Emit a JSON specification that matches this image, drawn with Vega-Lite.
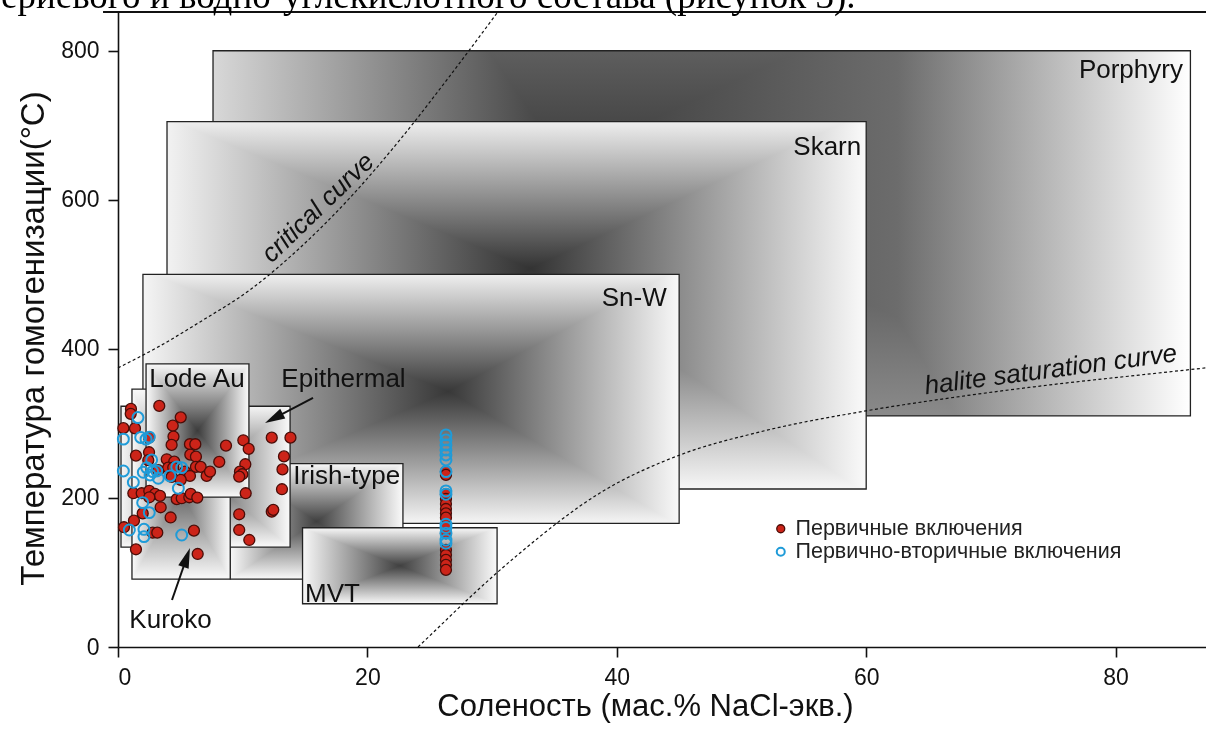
{
"$schema":"https://vega.github.io/schema/vega-lite/v6.json",
"autosize":"none",
"width":1088,"height":635,
"padding":{"left":118,"top":12,"right":0,"bottom":86},
"background":"#ffffff",
"config":{"view":{"stroke":null},"font":"Liberation Sans"},
"title":{"text":"ериевого и водно-углекислотного состава (рисунок 3).","anchor":"start","frame":"group","font":"Liberation Serif","fontSize":37,"fontWeight":"normal","color":"#000000","dx":-117,"offset":-36,"baseline":"alphabetic"},
"datasets":{
"boxes":[
{"name":"Porphyry","x":7.62,"x2":86.0,"y":310,"y2":800},
{"name":"Skarn","x":3.93,"x2":60.0,"y":212,"y2":705},
{"name":"Sn-W","x":2.0,"x2":45.0,"y":166,"y2":500},
{"name":"Irish-type","x":9.0,"x2":22.85,"y":91,"y2":246},
{"name":"MVT","x":14.8,"x2":30.4,"y":58,"y2":160},
{"name":"Epithermal","x":0.24,"x2":13.8,"y":134,"y2":323},
{"name":"Kuroko","x":1.12,"x2":9.0,"y":91,"y2":346},
{"name":"Lode Au","x":2.25,"x2":10.5,"y":201,"y2":380}
],
"border":[{"x":-1.2,"x2":87.3,"y":852}],
"critical":[{"x":0,"y":374.5},{"x":3.37,"y":404.0},{"x":6.58,"y":436.2},{"x":10.59,"y":479.2},{"x":14.59,"y":535.6},{"x":18.6,"y":602.7},{"x":22.61,"y":680.5},{"x":26.62,"y":766.4},{"x":30.47,"y":852.3}],
"halite":[{"x":24.06,"y":0},{"x":25.82,"y":28.2},{"x":27.99,"y":63.1},{"x":32.24,"y":126.2},{"x":38.65,"y":206.7},{"x":45.07,"y":257.7},{"x":51.48,"y":288.6},{"x":59.98,"y":316.8},{"x":66.72,"y":334.2},{"x":74.74,"y":351.7},{"x":82.76,"y":366.4},{"x":87.25,"y":374.5}],
"labelsR":[{"x":85.4,"y":764,"text":"Porphyry"},{"x":59.6,"y":660,"text":"Skarn"},{"x":44.0,"y":458,"text":"Sn-W"}],
"labelsL":[{"x":2.5,"y":349,"text":"Lode Au"},{"x":13.1,"y":349.4,"text":"Epithermal"},{"x":14.06,"y":218.8,"text":"Irish-type"},{"x":15.0,"y":61,"text":"MVT"},{"x":0.91,"y":25.1,"text":"Kuroko"}],
"curveLabels":[{"x":16.04,"y":589.3,"text":"critical curve","angle":-44},{"x":74.8,"y":372,"text":"halite saturation curve","angle":-7.5}],
"arrows":[{"x":15.64,"y":334.2,"x2":12.5,"y2":306.8},{"x":4.33,"y":63.1,"x2":5.51,"y2":120.1}],
"heads":[{"x":12.5,"y":306.8,"angle":242.5},{"x":5.51,"y":120.1,"angle":19}],
"pts":[
{"x":3.31,"y":323.5,"cat":"Первичные включения"},{"x":1.04,"y":319.5,"cat":"Первичные включения"},{"x":1.02,"y":312.8,"cat":"Первичные включения"},{"x":5.03,"y":308.1,"cat":"Первичные включения"},{"x":0.43,"y":293.6,"cat":"Первичные включения"},{"x":1.36,"y":293.3,"cat":"Первичные включения"},{"x":4.39,"y":297.0,"cat":"Первичные включения"},{"x":4.45,"y":282.3,"cat":"Первичные включения"},{"x":2.49,"y":280.9,"cat":"Первичные включения"},{"x":4.30,"y":271.1,"cat":"Первичные включения"},{"x":5.77,"y":272.1,"cat":"Первичные включения"},{"x":6.20,"y":272.1,"cat":"Первичные включения"},{"x":2.49,"y":261.3,"cat":"Первичные включения"},{"x":5.80,"y":258.1,"cat":"Первичные включения"},{"x":6.25,"y":255.4,"cat":"Первичные включения"},{"x":1.44,"y":256.8,"cat":"Первичные включения"},{"x":3.91,"y":251.9,"cat":"Первичные включения"},{"x":4.51,"y":248.7,"cat":"Первичные включения"},{"x":2.43,"y":250.6,"cat":"Первичные включения"},{"x":3.23,"y":237.2,"cat":"Первичные включения"},{"x":4.03,"y":240.7,"cat":"Первичные включения"},{"x":4.43,"y":240.7,"cat":"Первичные включения"},{"x":6.25,"y":241.6,"cat":"Первичные включения"},{"x":6.63,"y":241.6,"cat":"Первичные включения"},{"x":5.37,"y":235.3,"cat":"Первичные включения"},{"x":5.77,"y":229.5,"cat":"Первичные включения"},{"x":7.11,"y":229.5,"cat":"Первичные включения"},{"x":4.30,"y":228.2,"cat":"Первичные включения"},{"x":5.03,"y":224.2,"cat":"Первичные включения"},{"x":12.33,"y":280.9,"cat":"Первичные включения"},{"x":13.83,"y":280.9,"cat":"Первичные включения"},{"x":10.05,"y":277.4,"cat":"Первичные включения"},{"x":10.48,"y":265.8,"cat":"Первичные включения"},{"x":8.66,"y":270.2,"cat":"Первичные включения"},{"x":13.31,"y":255.7,"cat":"Первичные включения"},{"x":8.12,"y":248.3,"cat":"Первичные включения"},{"x":7.38,"y":235.3,"cat":"Первичные включения"},{"x":10.21,"y":245.2,"cat":"Первичные включения"},{"x":9.78,"y":235.3,"cat":"Первичные включения"},{"x":9.97,"y":231.8,"cat":"Первичные включения"},{"x":13.19,"y":238.3,"cat":"Первичные включения"},{"x":9.72,"y":228.6,"cat":"Первичные включения"},{"x":1.23,"y":206.3,"cat":"Первичные включения"},{"x":1.90,"y":206.3,"cat":"Первичные включения"},{"x":2.51,"y":209.4,"cat":"Первичные включения"},{"x":2.97,"y":205.4,"cat":"Первичные включения"},{"x":3.37,"y":202.7,"cat":"Первичные включения"},{"x":4.71,"y":198.3,"cat":"Первичные включения"},{"x":5.11,"y":199.6,"cat":"Первичные включения"},{"x":5.72,"y":200.9,"cat":"Первичные включения"},{"x":5.83,"y":205.4,"cat":"Первичные включения"},{"x":6.36,"y":200.5,"cat":"Первичные включения"},{"x":2.51,"y":200.9,"cat":"Первичные включения"},{"x":3.42,"y":187.5,"cat":"Первичные включения"},{"x":1.98,"y":179.2,"cat":"Первичные включения"},{"x":4.22,"y":173.8,"cat":"Первичные включения"},{"x":1.28,"y":169.5,"cat":"Первичные включения"},{"x":0.48,"y":160.7,"cat":"Первичные включения"},{"x":2.78,"y":153.4,"cat":"Первичные включения"},{"x":3.15,"y":153.4,"cat":"Первичные включения"},{"x":6.09,"y":156.1,"cat":"Первичные включения"},{"x":1.44,"y":131.1,"cat":"Первичные включения"},{"x":6.39,"y":124.8,"cat":"Первичные включения"},{"x":10.24,"y":206.3,"cat":"Первичные включения"},{"x":13.15,"y":211.7,"cat":"Первичные включения"},{"x":9.72,"y":178.1,"cat":"Первичные включения"},{"x":12.33,"y":181.6,"cat":"Первичные включения"},{"x":12.45,"y":183.9,"cat":"Первичные включения"},{"x":9.72,"y":157.0,"cat":"Первичные включения"},{"x":10.53,"y":143.6,"cat":"Первичные включения"},
{"x":26.3,"y":235.3,"cat":"Первичные включения"},{"x":26.3,"y":230.9,"cat":"Первичные включения"},{"x":26.3,"y":205.0,"cat":"Первичные включения"},{"x":26.3,"y":198.7,"cat":"Первичные включения"},{"x":26.3,"y":191.9,"cat":"Первичные включения"},{"x":26.3,"y":185.2,"cat":"Первичные включения"},{"x":26.3,"y":179.4,"cat":"Первичные включения"},{"x":26.3,"y":173.5,"cat":"Первичные включения"},{"x":26.3,"y":160.3,"cat":"Первичные включения"},{"x":26.3,"y":152.6,"cat":"Первичные включения"},{"x":26.3,"y":130.2,"cat":"Первичные включения"},{"x":26.3,"y":123.5,"cat":"Первичные включения"},{"x":26.3,"y":116.8,"cat":"Первичные включения"},{"x":26.3,"y":110.1,"cat":"Первичные включения"},{"x":26.3,"y":103.4,"cat":"Первичные включения"},
{"x":1.60,"y":307.8,"cat":"Первично-вторичные включения"},{"x":0.43,"y":278.9,"cat":"Первично-вторичные включения"},{"x":1.82,"y":281.2,"cat":"Первично-вторичные включения"},{"x":2.25,"y":278.9,"cat":"Первично-вторичные включения"},{"x":2.51,"y":281.6,"cat":"Первично-вторичные включения"},{"x":2.70,"y":251.0,"cat":"Первично-вторичные включения"},{"x":0.43,"y":236.2,"cat":"Первично-вторичные включения"},{"x":2.03,"y":234.5,"cat":"Первично-вторичные включения"},{"x":2.30,"y":240.7,"cat":"Первично-вторичные включения"},{"x":2.57,"y":230.9,"cat":"Первично-вторичные включения"},{"x":2.78,"y":235.3,"cat":"Первично-вторичные включения"},{"x":3.10,"y":236.2,"cat":"Первично-вторичные включения"},{"x":3.23,"y":226.4,"cat":"Первично-вторичные включения"},{"x":4.17,"y":229.5,"cat":"Первично-вторичные включения"},{"x":4.71,"y":241.6,"cat":"Первично-вторичные включения"},{"x":5.11,"y":240.7,"cat":"Первично-вторичные включения"},{"x":1.23,"y":221.1,"cat":"Первично-вторичные включения"},{"x":4.84,"y":213.0,"cat":"Первично-вторичные включения"},{"x":1.98,"y":193.7,"cat":"Первично-вторичные включения"},{"x":2.51,"y":180.3,"cat":"Первично-вторичные включения"},{"x":0.91,"y":157.0,"cat":"Первично-вторичные включения"},{"x":2.08,"y":157.9,"cat":"Первично-вторичные включения"},{"x":2.08,"y":148.1,"cat":"Первично-вторичные включения"},{"x":5.11,"y":150.3,"cat":"Первично-вторичные включения"},
{"x":26.3,"y":284.6,"cat":"Первично-вторичные включения"},{"x":26.3,"y":277.9,"cat":"Первично-вторичные включения"},{"x":26.3,"y":271.1,"cat":"Первично-вторичные включения"},{"x":26.3,"y":264.4,"cat":"Первично-вторичные включения"},{"x":26.3,"y":257.7,"cat":"Первично-вторичные включения"},{"x":26.3,"y":251.0,"cat":"Первично-вторичные включения"},{"x":26.3,"y":235.3,"cat":"Первично-вторичные включения"},{"x":26.3,"y":209.4,"cat":"Первично-вторичные включения"},{"x":26.3,"y":205.0,"cat":"Первично-вторичные включения"},{"x":26.3,"y":164.7,"cat":"Первично-вторичные включения"},{"x":26.3,"y":160.3,"cat":"Первично-вторичные включения"},{"x":26.3,"y":152.6,"cat":"Первично-вторичные включения"},{"x":26.3,"y":143.6,"cat":"Первично-вторичные включения"},{"x":26.3,"y":139.2,"cat":"Первично-вторичные включения"}
]
},
"encoding":{
"x":{"field":"x","type":"quantitative","scale":{"domain":[0,87.25],"nice":false,"zero":false},
 "axis":{"values":[0,20,40,60,80],"title":"Соленость (мас.% NaCl-экв.)","grid":false,"domainColor":"#111111","domainWidth":1.6,"tickColor":"#111111","tickWidth":1.6,"tickSize":10,"labelFontSize":23,"labelFont":"Liberation Sans","labelColor":"#111111","labelPadding":9,"titleFontSize":31,"titleFont":"Liberation Sans","titleFontWeight":"normal","titleColor":"#111111","titleX":527,"titleY":68,"titleBaseline":"alphabetic","titleAlign":"center"}},
"y":{"field":"y","type":"quantitative","scale":{"domain":[0,852],"nice":false,"zero":false},
 "axis":{"values":[0,200,400,600,800],"title":"Температура гомогенизации(°C)","grid":false,"domainColor":"#111111","domainWidth":1.6,"tickColor":"#111111","tickWidth":1.6,"tickSize":10,"labelFontSize":23,"labelFont":"Liberation Sans","labelColor":"#111111","labelPadding":9,"titleFontSize":33,"titleFont":"Liberation Sans","titleFontWeight":"normal","titleColor":"#111111","titleX":-75,"titleY":326,"titleBaseline":"alphabetic","titleAlign":"center","titleAngle":-90}}
},
"layer":[
{"data":{"name":"boxes"},"transform":[{"filter":"datum.name==='Porphyry'"}],"mark":{"type":"rect","fill":{"gradient":"linear","x1":0,"y1":0,"x2":1,"y2":0,"stops":[{"offset":0,"color":"#d8d8d8"},{"offset":0.36,"color":"#3c3c3c"},{"offset":0.7,"color":"#6c6c6c"},{"offset":1,"color":"#ffffff"}]}},"encoding":{"x2":{"field":"x2"},"y2":{"field":"y2"}}},
{"data":{"name":"boxes"},"transform":[{"filter":"datum.name==='Porphyry'"}],"mark":{"type":"rect","blend":"lighten","fill":{"gradient":"linear","x1":0,"y1":0,"x2":0,"y2":1,"stops":[{"offset":0,"color":"#5e5e5e"},{"offset":0.3,"color":"#3c3c3c"},{"offset":1,"color":"#8a8a8a"}]}},"encoding":{"x2":{"field":"x2"},"y2":{"field":"y2"}}},
{"data":{"name":"boxes"},"transform":[{"filter":"datum.name==='Porphyry'"}],"mark":{"type":"rect","filled":false,"stroke":"#222222","strokeWidth":1.3},"encoding":{"x2":{"field":"x2"},"y2":{"field":"y2"}}},

{"data":{"name":"boxes"},"transform":[{"filter":"datum.name==='Skarn'"}],"mark":{"type":"rect","fill":{"gradient":"linear","x1":0,"y1":0,"x2":1,"y2":0,"stops":[{"offset":0,"color":"#f2f2f2"},{"offset":0.52,"color":"#333333"},{"offset":1,"color":"#fafafa"}]}},"encoding":{"x2":{"field":"x2"},"y2":{"field":"y2"}}},
{"data":{"name":"boxes"},"transform":[{"filter":"datum.name==='Skarn'"}],"mark":{"type":"rect","blend":"lighten","fill":{"gradient":"linear","x1":0,"y1":0,"x2":0,"y2":1,"stops":[{"offset":0,"color":"#eeeeee"},{"offset":0.4,"color":"#333333"},{"offset":1,"color":"#f6f6f6"}]}},"encoding":{"x2":{"field":"x2"},"y2":{"field":"y2"}}},
{"data":{"name":"boxes"},"transform":[{"filter":"datum.name==='Skarn'"}],"mark":{"type":"rect","filled":false,"stroke":"#222222","strokeWidth":1.3},"encoding":{"x2":{"field":"x2"},"y2":{"field":"y2"}}},

{"data":{"name":"boxes"},"transform":[{"filter":"datum.name==='Sn-W'"}],"mark":{"type":"rect","fill":{"gradient":"linear","x1":0,"y1":0,"x2":1,"y2":0,"stops":[{"offset":0,"color":"#f5f5f5"},{"offset":0.57,"color":"#383838"},{"offset":1,"color":"#f8f8f8"}]}},"encoding":{"x2":{"field":"x2"},"y2":{"field":"y2"}}},
{"data":{"name":"boxes"},"transform":[{"filter":"datum.name==='Sn-W'"}],"mark":{"type":"rect","blend":"lighten","fill":{"gradient":"linear","x1":0,"y1":0,"x2":0,"y2":1,"stops":[{"offset":0,"color":"#efefef"},{"offset":0.47,"color":"#383838"},{"offset":1,"color":"#f5f5f5"}]}},"encoding":{"x2":{"field":"x2"},"y2":{"field":"y2"}}},
{"data":{"name":"boxes"},"transform":[{"filter":"datum.name==='Sn-W'"}],"mark":{"type":"rect","filled":false,"stroke":"#222222","strokeWidth":1.3},"encoding":{"x2":{"field":"x2"},"y2":{"field":"y2"}}},

{"data":{"name":"boxes"},"transform":[{"filter":"datum.name==='Irish-type'"}],"mark":{"type":"rect","fill":{"gradient":"linear","x1":0,"y1":0,"x2":1,"y2":0,"stops":[{"offset":0,"color":"#f8f8f8"},{"offset":0.5,"color":"#404040"},{"offset":1,"color":"#fafafa"}]}},"encoding":{"x2":{"field":"x2"},"y2":{"field":"y2"}}},
{"data":{"name":"boxes"},"transform":[{"filter":"datum.name==='Irish-type'"}],"mark":{"type":"rect","blend":"lighten","fill":{"gradient":"linear","x1":0,"y1":0,"x2":0,"y2":1,"stops":[{"offset":0,"color":"#f8f8f8"},{"offset":0.5,"color":"#404040"},{"offset":1,"color":"#fafafa"}]}},"encoding":{"x2":{"field":"x2"},"y2":{"field":"y2"}}},
{"data":{"name":"boxes"},"transform":[{"filter":"datum.name==='Irish-type'"}],"mark":{"type":"rect","filled":false,"stroke":"#222222","strokeWidth":1.3},"encoding":{"x2":{"field":"x2"},"y2":{"field":"y2"}}},

{"data":{"name":"boxes"},"transform":[{"filter":"datum.name==='MVT'"}],"mark":{"type":"rect","fill":{"gradient":"linear","x1":0,"y1":0,"x2":1,"y2":0,"stops":[{"offset":0,"color":"#f8f8f8"},{"offset":0.5,"color":"#404040"},{"offset":1,"color":"#fafafa"}]}},"encoding":{"x2":{"field":"x2"},"y2":{"field":"y2"}}},
{"data":{"name":"boxes"},"transform":[{"filter":"datum.name==='MVT'"}],"mark":{"type":"rect","blend":"lighten","fill":{"gradient":"linear","x1":0,"y1":0,"x2":0,"y2":1,"stops":[{"offset":0,"color":"#f8f8f8"},{"offset":0.5,"color":"#404040"},{"offset":1,"color":"#fafafa"}]}},"encoding":{"x2":{"field":"x2"},"y2":{"field":"y2"}}},
{"data":{"name":"boxes"},"transform":[{"filter":"datum.name==='MVT'"}],"mark":{"type":"rect","filled":false,"stroke":"#222222","strokeWidth":1.3},"encoding":{"x2":{"field":"x2"},"y2":{"field":"y2"}}},

{"data":{"name":"boxes"},"transform":[{"filter":"datum.name==='Epithermal'"}],"mark":{"type":"rect","fill":{"gradient":"linear","x1":0,"y1":0,"x2":1,"y2":0,"stops":[{"offset":0,"color":"#f5f5f5"},{"offset":0.5,"color":"#555555"},{"offset":1,"color":"#fafafa"}]}},"encoding":{"x2":{"field":"x2"},"y2":{"field":"y2"}}},
{"data":{"name":"boxes"},"transform":[{"filter":"datum.name==='Epithermal'"}],"mark":{"type":"rect","blend":"lighten","fill":{"gradient":"linear","x1":0,"y1":0,"x2":0,"y2":1,"stops":[{"offset":0,"color":"#f5f5f5"},{"offset":0.5,"color":"#555555"},{"offset":1,"color":"#fafafa"}]}},"encoding":{"x2":{"field":"x2"},"y2":{"field":"y2"}}},
{"data":{"name":"boxes"},"transform":[{"filter":"datum.name==='Epithermal'"}],"mark":{"type":"rect","filled":false,"stroke":"#222222","strokeWidth":1.3},"encoding":{"x2":{"field":"x2"},"y2":{"field":"y2"}}},

{"data":{"name":"boxes"},"transform":[{"filter":"datum.name==='Kuroko'"}],"mark":{"type":"rect","fill":{"gradient":"linear","x1":0,"y1":0,"x2":1,"y2":0,"stops":[{"offset":0,"color":"#fafafa"},{"offset":0.5,"color":"#666666"},{"offset":1,"color":"#fafafa"}]}},"encoding":{"x2":{"field":"x2"},"y2":{"field":"y2"}}},
{"data":{"name":"boxes"},"transform":[{"filter":"datum.name==='Kuroko'"}],"mark":{"type":"rect","blend":"lighten","fill":{"gradient":"linear","x1":0,"y1":0,"x2":0,"y2":1,"stops":[{"offset":0,"color":"#fafafa"},{"offset":0.55,"color":"#666666"},{"offset":1,"color":"#fafafa"}]}},"encoding":{"x2":{"field":"x2"},"y2":{"field":"y2"}}},
{"data":{"name":"boxes"},"transform":[{"filter":"datum.name==='Kuroko'"}],"mark":{"type":"rect","filled":false,"stroke":"#222222","strokeWidth":1.3},"encoding":{"x2":{"field":"x2"},"y2":{"field":"y2"}}},

{"data":{"name":"boxes"},"transform":[{"filter":"datum.name==='Lode Au'"}],"mark":{"type":"rect","fill":{"gradient":"linear","x1":0,"y1":0,"x2":1,"y2":0,"stops":[{"offset":0,"color":"#fafafa"},{"offset":0.5,"color":"#3c3c3c"},{"offset":1,"color":"#fafafa"}]}},"encoding":{"x2":{"field":"x2"},"y2":{"field":"y2"}}},
{"data":{"name":"boxes"},"transform":[{"filter":"datum.name==='Lode Au'"}],"mark":{"type":"rect","blend":"lighten","fill":{"gradient":"linear","x1":0,"y1":0,"x2":0,"y2":1,"stops":[{"offset":0,"color":"#fafafa"},{"offset":0.5,"color":"#3c3c3c"},{"offset":1,"color":"#fafafa"}]}},"encoding":{"x2":{"field":"x2"},"y2":{"field":"y2"}}},
{"data":{"name":"boxes"},"transform":[{"filter":"datum.name==='Lode Au'"}],"mark":{"type":"rect","filled":false,"stroke":"#222222","strokeWidth":1.3},"encoding":{"x2":{"field":"x2"},"y2":{"field":"y2"}}},

{"data":{"name":"border"},"mark":{"type":"rule","color":"#111111","strokeWidth":2},"encoding":{"x2":{"field":"x2"}}},
{"data":{"name":"critical"},"mark":{"type":"line","color":"#111111","strokeWidth":1.2,"strokeDash":[3,2.5],"interpolate":"monotone"},"encoding":{}},
{"data":{"name":"halite"},"mark":{"type":"line","color":"#111111","strokeWidth":1.2,"strokeDash":[3,2.5],"interpolate":"monotone"},"encoding":{}},
{"data":{"name":"labelsR"},"mark":{"type":"text","align":"right","baseline":"alphabetic","font":"Liberation Sans","fontSize":26,"color":"#111111"},"encoding":{"text":{"field":"text"}}},
{"data":{"name":"labelsL"},"mark":{"type":"text","align":"left","baseline":"alphabetic","font":"Liberation Sans","fontSize":26,"color":"#111111"},"encoding":{"text":{"field":"text"}}},
{"data":{"name":"curveLabels"},"mark":{"type":"text","align":"center","baseline":"middle","font":"Liberation Sans","fontStyle":"italic","fontSize":26,"color":"#111111"},"encoding":{"text":{"field":"text"},"angle":{"field":"angle","type":"quantitative","scale":null}}},
{"data":{"name":"arrows"},"mark":{"type":"rule","color":"#111111","strokeWidth":2},"encoding":{"x2":{"field":"x2"},"y2":{"field":"y2"}}},
{"data":{"name":"heads"},"mark":{"type":"point","shape":"M0,-1L-0.55,1L0.55,1Z","filled":true,"fill":"#111111","strokeWidth":0,"size":400,"opacity":1},"encoding":{"angle":{"field":"angle","type":"quantitative","scale":null}}},
{"data":{"name":"pts"},"mark":{"type":"point","shape":"circle","size":120,"opacity":1},
 "encoding":{
 "fill":{"field":"cat","type":"nominal","scale":{"domain":["Первичные включения","Первично-вторичные включения"],"range":["#cc2419","transparent"]},"legend":{"orient":"none","legendX":652,"legendY":506,"title":null,"labelFontSize":21.5,"labelFont":"Liberation Sans","labelColor":"#222222","labelLimit":0,"symbolSize":64,"symbolStrokeWidth":1.6,"rowPadding":0,"labelOffset":4,"padding":0}},
 "stroke":{"field":"cat","type":"nominal","scale":{"domain":["Первичные включения","Первично-вторичные включения"],"range":["#4a0d08","#1f9bd8"]},"legend":{"orient":"none","legendX":652,"legendY":506,"title":null,"labelFontSize":21.5,"labelFont":"Liberation Sans","labelColor":"#222222","labelLimit":0,"symbolSize":64,"symbolStrokeWidth":1.6,"rowPadding":0,"labelOffset":4,"padding":0}},
 "strokeWidth":{"field":"cat","type":"nominal","scale":{"domain":["Первичные включения","Первично-вторичные включения"],"range":[1.3,2]},"legend":null}
 }}
]
}
